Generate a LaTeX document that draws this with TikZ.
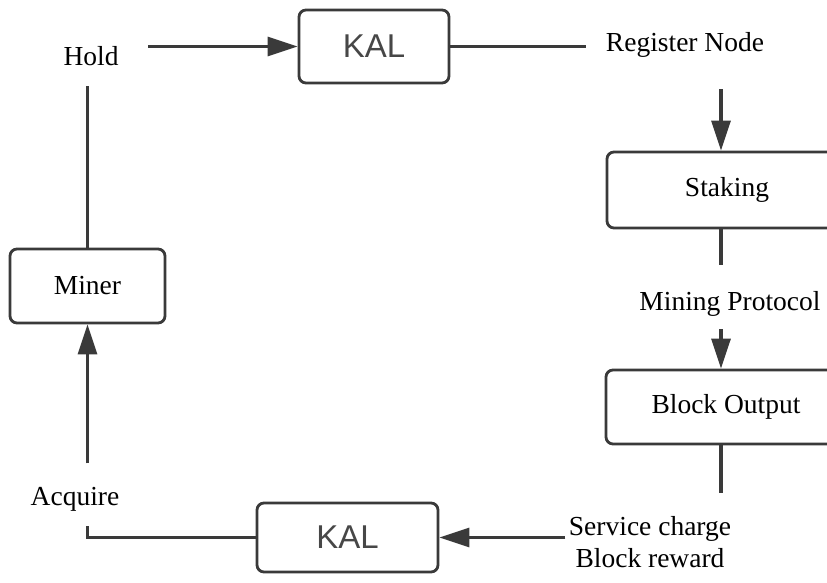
\documentclass[tikz,border=0pt]{standalone}
\usepackage{fontspec}
\setmainfont{Liberation Serif}
\newfontfamily\kalfont{Liberation Sans}
\usetikzlibrary{arrows.meta}

\definecolor{linegray}{HTML}{3A3A3A}
\tikzset{
    lbl/.style={font=\fontsize{27.5}{32}\selectfont, align=center},
    box/.style={draw=linegray, line width=2.8pt, rounded corners=7pt, fill=white,
        font=\fontsize{27.5}{32}\selectfont},
    kalbox/.style={box, text=black!72, font=\kalfont\fontsize{33}{36}\selectfont},
    conn/.style={draw=linegray, line width=3.2pt},
    arr/.style={conn, -{Triangle[length=30pt,width=19pt]}}
}

\begin{document}
\begin{tikzpicture}[x=1pt,y=-1pt]
            \useasboundingbox (0,0) rectangle (827,583);

            \node[lbl] (hold) at (91,56) {Hold};
            \node[kalbox, minimum width=150pt, minimum height=73pt] (kaltop) at (374,46.5) {KAL};
            \node[lbl] (reg) at (685,45) {Register Node};
            \node[box, minimum width=240pt, minimum height=76pt] (staking) at (727,190) {Staking};
            \node[lbl] (mining) at (730,304) {Mining Protocol};
            \node[box, minimum width=240pt, minimum height=74pt] (blockout) at (726,407) {Block Output};
            \node[lbl] (service) at (650,542) {Service charge\\Block reward};
            \node[kalbox, minimum width=181pt, minimum height=69pt] (kalbot) at (347.5,537.5) {KAL};
            \node[lbl] (acquire) at (75,499) {Acquire};
            \node[box, minimum width=155pt, minimum height=74pt] (miner) at (87.5,286) {Miner};

            \draw[arr,shorten <=26pt] (kaltop.west -| hold.east) -- (kaltop.west);
            \draw[conn,shorten >=16pt] (kaltop.east) -- (kaltop.east -| reg.west);
            \draw[arr,shorten <=28pt] ([xshift=-6pt]staking.north |- reg.south) -- ([xshift=-6pt]staking.north);
            \draw[conn,shorten >=23pt] ([xshift=-6pt]staking.south) -- ([xshift=-6pt]staking.south |- mining.north);
            \draw[arr,shorten <=9pt] ([xshift=-5pt]blockout.north |- mining.south) -- ([xshift=-5pt]blockout.north);
            \draw[conn,shorten >=20pt] ([xshift=-5pt]blockout.south) -- ([xshift=-5pt]blockout.south |- service.north);
            \draw[arr] (service.west |- kalbot.east) -- (kalbot.east);
            \draw[conn,shorten >=11pt] (kalbot.west) -| (miner.south |- acquire.south);
            \draw[arr,shorten <=20pt] (miner.south |- acquire.north) -- (miner.south);
            \draw[conn,shorten >=17pt] (miner.north) -- (miner.north |- hold.south);
        \end{tikzpicture}
\end{document}
